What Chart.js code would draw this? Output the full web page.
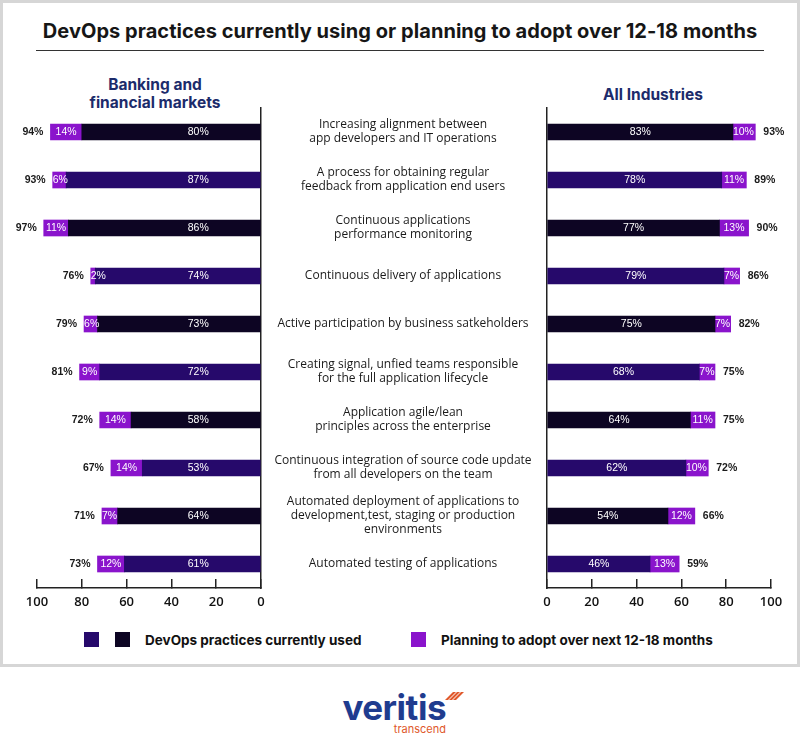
<!DOCTYPE html>
<html><head><meta charset="utf-8">
<script src="https://cdn.jsdelivr.net/npm/chart.js@4.4.1/dist/chart.umd.min.js"></script>
<style>
html,body{margin:0;padding:0;background:#fff;}
body{width:800px;height:750px;position:relative;overflow:hidden;font-family:Inter,'Open Sans',sans-serif;}
#card{position:absolute;left:0;top:0;width:794px;height:661px;border:3px solid #d6d6d6;}
#title{position:absolute;left:0;top:18px;width:800px;text-align:center;font:700 20px Inter;color:#161616;line-height:26px;letter-spacing:0.05px;}
#rule{position:absolute;left:36px;top:50px;width:728px;height:1px;background:#333;}
.sub{position:absolute;text-align:center;font:700 15.5px Inter;color:#1c2b6b;line-height:18px;}
#subL{left:55px;width:200px;top:76px;}
#subR{left:553px;width:200px;top:86px;}
canvas{position:absolute;}
#cL{left:0;top:100px;}
#cR{left:520px;top:100px;}
.sq{position:absolute;width:15px;height:15px;top:632px;}
.lg{position:absolute;top:630px;font:700 13.5px Inter;color:#111;line-height:20px;white-space:nowrap;}
#logo{position:absolute;left:336px;top:688px;width:110px;text-align:right;}
#logoMain{font:700 35px Inter;color:#1f3c8f;line-height:38px;letter-spacing:-0.5px;}
#logoSub{font:400 11px Inter;color:#e0582b;line-height:12px;margin-top:-3px;}
.chev{position:absolute;width:2.5px;height:8px;background:#e0582b;transform:skewX(-45deg);top:692px;}
</style></head>
<body>
<div id="card"></div>
<div id="title">DevOps practices currently using or planning to adopt over 12-18 months</div>
<div id="rule"></div>
<div class="sub" id="subL">Banking and<br>financial markets</div>
<div class="sub" id="subR">All Industries</div>
<canvas id="cL" width="545" height="520"></canvas>
<canvas id="cR" width="280" height="520"></canvas>
<div class="sq" style="left:84px;background:#26096b"></div>
<div class="sq" style="left:115px;background:#0d0523"></div>
<div class="lg" style="left:145px">DevOps practices currently used</div>
<div class="sq" style="left:411px;background:#8a14cc"></div>
<div class="lg" style="left:441px">Planning to adopt over next 12-18 months</div>
<div id="logo"><div id="logoMain">veritis</div><div id="logoSub">transcend</div></div>
<div class="chev" style="left:449px"></div>
<div class="chev" style="left:453px"></div>
<div class="chev" style="left:457px"></div>
<script>
const categories = [
  ['Increasing alignment between', 'app developers and IT operations'],
  ['A process for obtaining regular', 'feedback from application end users'],
  ['Continuous applications', 'performance monitoring'],
  ['Continuous delivery of applications'],
  ['Active participation by business satkeholders'],
  ['Creating signal, unfied teams responsible', 'for the full application lifecycle'],
  ['Application agile/lean', 'principles across the enterprise'],
  ['Continuous integration of source code update', 'from all developers on the team'],
  ['Automated deployment of applications to', 'development,test, staging or production', 'environments'],
  ['Automated testing of applications']
];
const bankingCurrent  = [80, 87, 86, 74, 73, 72, 58, 53, 64, 61];
const bankingPlanning = [14,  6, 11,  2,  6,  9, 14, 14,  7, 12];
const allCurrent      = [83, 78, 77, 79, 75, 68, 64, 62, 54, 46];
const allPlanning     = [10, 11, 13,  7,  7,  7, 11, 10, 12, 13];
const axisTicks = [0, 20, 40, 60, 80, 100];

const DARK = '#0d0523', NAVY = '#26096b', PURPLE = '#8a14cc';
const rowColors = categories.map((_, i) => i % 2 ? NAVY : DARK);

const valueLabels = {
  id: 'valueLabels',
  afterDatasetsDraw(chart, args, opts) {
    const ctx = chart.ctx, xs = chart.scales.x;
    const cur = chart.getDatasetMeta(0).data, plan = chart.getDatasetMeta(1).data;
    const dC = chart.data.datasets[0].data, dP = chart.data.datasets[1].data;
    ctx.save();
    ctx.textBaseline = 'middle';
    cur.forEach((bar, i) => {
      ctx.font = '10.5px "Liberation Sans"';
      ctx.fillStyle = '#fff';
      ctx.textAlign = 'center';
      const cx = opts.currentAt != null ? xs.getPixelForValue(opts.currentAt) : (bar.x + bar.base) / 2;
      ctx.fillText(dC[i] + '%', cx, bar.y + 0.5);
      const p = plan[i];
      const t = dP[i] + '%';
      const w = ctx.measureText(t).width;
      if (w + 2 > Math.abs(p.x - p.base)) {
        ctx.textAlign = 'left';
        ctx.fillText(t, Math.min(p.x, p.base), p.y + 0.5);
      } else {
        ctx.fillText(t, (p.x + p.base) / 2, p.y + 0.5);
      }
      ctx.font = 'bold 10.5px "Liberation Sans"';
      ctx.fillStyle = '#1a1a1a';
      const left = opts.side === 'left';
      ctx.textAlign = left ? 'right' : 'left';
      ctx.fillText((dC[i] + dP[i]) + '%', p.x + (left ? -7 : 8), p.y + 0.5);
    });
    ctx.restore();
  }
};

const categoryLabels = {
  id: 'categoryLabels',
  afterDraw(chart, args, opts) {
    if (!opts.show) return;
    const ctx = chart.ctx, ys = chart.scales.y;
    ctx.save();
    ctx.font = '12px "Open Sans"';
    ctx.fillStyle = '#1a1a1a';
    ctx.textAlign = 'center';
    ctx.textBaseline = 'middle';
    chart.data.labels.forEach((lines, i) => {
      const y = ys.getPixelForValue(i);
      const n = lines.length;
      lines.forEach((t, k) => ctx.fillText(t, opts.x, y + (k - (n - 1) / 2) * opts.lineHeight));
    });
    ctx.restore();
  }
};

function makeChart(id, current, planning, side) {
  const left = side === 'left';
  return new Chart(document.getElementById(id), {
    type: 'bar',
    data: {
      labels: categories,
      datasets: [
        { label: 'DevOps practices currently used', data: current, backgroundColor: rowColors, barThickness: 16, borderWidth: 0 },
        { label: 'Planning to adopt over next 12-18 months', data: planning, backgroundColor: PURPLE, barThickness: 16, borderWidth: 0 }
      ]
    },
    options: {
      indexAxis: 'y',
      responsive: false,
      animation: false,
      events: [],
      layout: { padding: left ? { left: 37, right: 283, top: 8, bottom: 0 } : { left: 26, right: 29, top: 8, bottom: 0 } },
      plugins: {
        legend: { display: false },
        tooltip: { enabled: false },
        valueLabels: { side: side, currentAt: left ? 28 : null },
        categoryLabels: { show: left, x: 403, lineHeight: 14 }
      },
      scales: {
        x: {
          type: 'linear', min: 0, max: 100, reverse: left, stacked: true, position: 'bottom',
          afterBuildTicks(s) { s.ticks = axisTicks.map(v => ({ value: v })); },
          ticks: { padding: 15, color: '#111', maxRotation: 0, font: { family: 'Open Sans', size: 13, weight: '600' } },
          grid: { drawOnChartArea: false, tickLength: -9, color: '#222', lineWidth: 1.5 },
          border: { color: '#222', width: 1.5 },
          afterFit(s) { s.height = 32; }
        },
        y: {
          position: left ? 'right' : 'left', stacked: true,
          ticks: { display: false },
          grid: { display: false },
          border: { display: true, color: '#222', width: 1.5 },
          afterFit(s) { s.width = 1; }
        }
      }
    },
    plugins: [valueLabels, categoryLabels]
  });
}

makeChart('cL', bankingCurrent, bankingPlanning, 'left');
makeChart('cR', allCurrent, allPlanning, 'right');
</script>
</body></html>
